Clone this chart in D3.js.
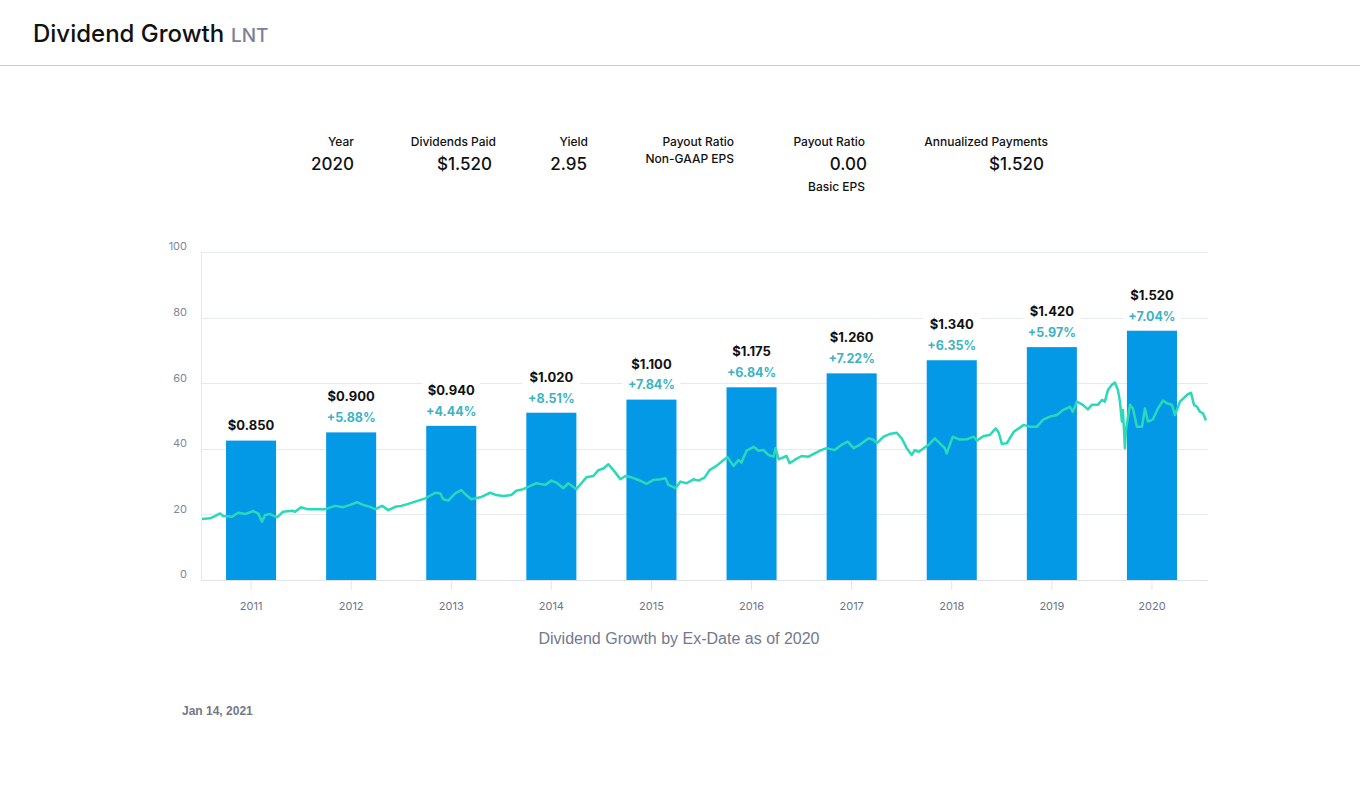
<!DOCTYPE html>
<html>
<head>
<meta charset="utf-8">
<script src="https://cdn.jsdelivr.net/npm/d3@7"></script>
<style>
  html, body { margin: 0; padding: 0; background: #fff; }
  svg { display: block; }
</style>
</head>
<body>
<svg id="chart" width="1360" height="795"></svg>
<script>
// ---------- DATA ----------
const years = [2011, 2012, 2013, 2014, 2015, 2016, 2017, 2018, 2019, 2020];
const dividends = [0.850, 0.900, 0.940, 1.020, 1.100, 1.175, 1.260, 1.340, 1.420, 1.520];
const growthLabels = ["", "+5.88%", "+4.44%", "+8.51%", "+7.84%", "+6.84%", "+7.22%", "+6.35%", "+5.97%", "+7.04%"];
const yTicks = [0, 20, 40, 60, 80, 100];

// share price (decimal year, price)
const priceTimes = [
  2011.01, 2011.09, 2011.14, 2011.19, 2011.22, 2011.31, 2011.37, 2011.44, 2011.52, 2011.57,
  2011.61, 2011.64, 2011.69, 2011.76, 2011.82, 2011.91, 2011.94, 2012.00, 2012.06, 2012.14,
  2012.24, 2012.34, 2012.42, 2012.49, 2012.56, 2012.62, 2012.69, 2012.74, 2012.81, 2012.87,
  2012.94, 2013.00, 2013.07, 2013.14, 2013.24, 2013.34, 2013.39, 2013.42, 2013.47, 2013.54,
  2013.60, 2013.65, 2013.70, 2013.79, 2013.89, 2013.95, 2014.02, 2014.10, 2014.15, 2014.22,
  2014.29, 2014.35, 2014.44, 2014.50, 2014.55, 2014.62, 2014.67, 2014.75, 2014.80, 2014.85,
  2014.92, 2014.97, 2015.02, 2015.07, 2015.12, 2015.19, 2015.24, 2015.30, 2015.37, 2015.45,
  2015.52, 2015.59, 2015.64, 2015.67, 2015.74, 2015.79, 2015.85, 2015.92, 2015.97, 2016.03,
  2016.08, 2016.15, 2016.22, 2016.26, 2016.32, 2016.37, 2016.40, 2016.45, 2016.52, 2016.57,
  2016.62, 2016.67, 2016.72, 2016.74, 2016.77, 2016.85, 2016.88, 2016.93, 2017.00, 2017.07,
  2017.13, 2017.18, 2017.25, 2017.33, 2017.40, 2017.46, 2017.52, 2017.58, 2017.67, 2017.72,
  2017.75, 2017.82, 2017.88, 2017.95, 2018.00, 2018.05, 2018.10, 2018.13, 2018.17, 2018.22,
  2018.27, 2018.33, 2018.38, 2018.43, 2018.45, 2018.51, 2018.58, 2018.65, 2018.72, 2018.75,
  2018.82, 2018.88, 2018.94, 2018.97, 2019.00, 2019.05, 2019.12, 2019.22, 2019.28, 2019.35,
  2019.41, 2019.48, 2019.55, 2019.61, 2019.68, 2019.71, 2019.75, 2019.81, 2019.86, 2019.90,
  2019.96, 2020.00, 2020.03, 2020.06, 2020.10, 2020.13, 2020.16, 2020.18, 2020.20, 2020.21,
  2020.23, 2020.24, 2020.28, 2020.31, 2020.35, 2020.40, 2020.43, 2020.46, 2020.51, 2020.56,
  2020.61, 2020.65, 2020.70, 2020.73, 2020.78, 2020.86, 2020.89, 2020.92, 2020.95, 2020.98,
  2021.01, 2021.04
];
const priceValues = [
  18.6, 18.8, 19.5, 20.3, 19.5, 19.3, 20.5, 20.1, 21.0, 20.3,
  17.8, 19.8, 20.1, 19.1, 20.8, 21.1, 20.8, 22.2, 21.6, 21.6,
  21.6, 22.6, 22.2, 22.9, 23.7, 22.9, 22.3, 21.6, 22.6, 21.3,
  22.3, 22.6, 23.2, 23.9, 24.9, 26.6, 26.4, 24.6, 24.2, 26.4,
  27.4, 25.9, 24.6, 25.2, 26.6, 25.9, 25.6, 25.9, 27.2, 27.7,
  28.7, 29.5, 29.0, 30.3, 29.7, 28.0, 29.5, 27.7, 29.5, 31.3,
  31.7, 33.5, 34.0, 35.3, 33.5, 30.7, 31.7, 31.3, 30.5, 29.3,
  30.5, 30.7, 31.0, 29.0, 28.0, 30.0, 29.5, 30.7, 30.3, 31.2,
  33.5, 34.8, 36.6, 37.4, 34.8, 36.6, 35.8, 39.4, 40.6, 39.4,
  39.6, 38.1, 37.6, 40.2, 36.8, 37.8, 35.6, 36.6, 37.8, 37.6,
  38.6, 39.4, 40.2, 39.6, 41.2, 42.2, 40.2, 41.2, 43.2, 42.7,
  41.7, 43.7, 44.5, 44.9, 43.2, 40.2, 38.1, 39.6, 39.1, 40.2,
  41.2, 43.2, 41.7, 40.2, 38.6, 43.7, 42.8, 42.9, 43.7, 42.5,
  43.9, 44.2, 46.2, 44.9, 41.5, 41.7, 45.2, 47.3, 46.7, 46.7,
  48.8, 49.8, 50.3, 51.8, 52.8, 51.3, 54.4, 53.4, 52.0, 53.4,
  53.4, 54.9, 54.4, 57.9, 59.5, 60.2, 57.9, 54.4, 48.3, 51.8,
  40.2, 45.7, 53.4, 52.3, 46.7, 46.7, 52.3, 48.3, 49.0, 52.3,
  54.7, 53.9, 53.4, 50.3, 54.4, 56.7, 57.1, 53.4, 52.8, 51.3,
  50.8, 48.6
];

const stats = [
  { label: "Year", value: "2020", sub: "" },
  { label: "Dividends Paid", value: "$1.520", sub: "" },
  { label: "Yield", value: "2.95", sub: "" },
  { label: "Payout Ratio", value: "", sub: "Non-GAAP EPS" },
  { label: "Payout Ratio", value: "0.00", sub: "Basic EPS" },
  { label: "Annualized Payments", value: "$1.520", sub: "" }
];

// ---------- LAYOUT ----------
const svg = d3.select("#chart");
const geo = "Inter, 'Noto Sans', sans-serif";
const arial = "'Liberation Sans', Arial, sans-serif";

// Header
svg.append("text").attr("x", 33).attr("y", 42)
  .attr("font-family", geo).attr("font-size", 24).attr("font-weight", 500)
  .attr("fill", "#111")
  .text("Dividend Growth");
svg.append("text").attr("x", 231).attr("y", 42)
  .attr("font-family", geo).attr("font-size", 19).attr("font-weight", 500)
  .attr("fill", "#7a8199").text("LNT");
svg.append("line").attr("x1", 0).attr("x2", 1360).attr("y1", 65.5).attr("y2", 65.5)
  .attr("stroke", "#c6cbd2").attr("stroke-width", 1);

// Stats row
const statLabelX = [354, 496, 588, 734, 865, 1048];
const statValueX = [354, 492, 587, 734, 867, 1044];
stats.forEach((s, i) => {
  svg.append("text").attr("x", statLabelX[i]).attr("y", 145.5)
    .attr("text-anchor", "end").attr("font-family", geo).attr("font-size", 12)
    .attr("font-weight", 500).attr("fill", "#111").text(s.label);
  if (s.value) {
    svg.append("text").attr("x", statValueX[i]).attr("y", 170)
      .attr("text-anchor", "end").attr("font-family", geo).attr("font-size", 17)
      .attr("font-weight", 500).attr("fill", "#111").text(s.value);
  }
  if (s.sub) {
    const sy = s.value ? 190.5 : 162.5;
    svg.append("text").attr("x", statLabelX[i]).attr("y", sy)
      .attr("text-anchor", "end").attr("font-family", geo).attr("font-size", 12)
      .attr("font-weight", 500).attr("fill", "#111").text(s.sub);
  }
});

// Scales
const plotLeft = 201, plotRight = 1208, plotBottom = 580, plotTop = 252;
const x = d3.scaleBand().domain(years).range([plotLeft, 1202]).paddingInner(0.5).paddingOuter(0.25);
const y = d3.scaleLinear().domain([0, 100]).range([plotBottom, plotTop]);
const yDiv = d3.scaleLinear().domain([0, 2]).range([plotBottom, plotTop]);
const xt = d3.scaleLinear().domain([2011, 2021]).range([plotLeft, 1202]);

// Gridlines
const gridG = svg.append("g");
gridG.selectAll("line.grid").data(yTicks.filter(d => d > 0)).join("line")
  .attr("x1", plotLeft).attr("x2", plotRight)
  .attr("y1", d => Math.round(y(d)) + 0.5).attr("y2", d => Math.round(y(d)) + 0.5)
  .attr("stroke", "#e4e9f2").attr("stroke-width", 1);

// Y axis labels
const yAxis = d3.axisLeft(y).tickValues(yTicks).tickSize(0).tickPadding(0);
const yg = svg.append("g").attr("transform", `translate(187,-6)`).call(yAxis);
yg.select(".domain").remove();
yg.selectAll("text").attr("font-family", geo).attr("font-size", 11)
  .attr("fill", "#80869b").attr("dy", "0.35em");

// Left axis line
svg.append("line").attr("x1", plotLeft + 0.5).attr("x2", plotLeft + 0.5).attr("y1", plotTop).attr("y2", plotBottom)
  .attr("stroke", "#e4e9f2");

// X axis
const xAxis = d3.axisBottom(x).tickSize(10).tickPadding(12).tickSizeOuter(0);
const xg = svg.append("g").attr("transform", `translate(0,${plotBottom})`).call(xAxis);
xg.select(".domain").attr("d", `M${plotLeft},0.5H${plotRight}`).attr("stroke", "#dfe4ec");
xg.selectAll(".tick line").attr("stroke", "#dfe4ec");
xg.selectAll("text").attr("font-family", geo).attr("font-size", 11).attr("fill", "#6e748a");

// Bars
const data = years.map((yr, i) => ({ yr, div: dividends[i], g: growthLabels[i] }));
svg.append("g").selectAll("rect").data(data).join("rect")
  .attr("x", d => x(d.yr)).attr("width", x.bandwidth())
  .attr("y", d => yDiv(d.div)).attr("height", d => plotBottom - yDiv(d.div))
  .attr("fill", "#0499e6");

// Price line
const price = priceTimes.map((t, i) => ({ t, v: priceValues[i] }));
svg.append("path").datum(price)
  .attr("fill", "none").attr("stroke", "#2ad9b7").attr("stroke-width", 2.5)
  .attr("stroke-linejoin", "round")
  .attr("d", d3.line().x(d => xt(d.t)).y(d => y(d.v)));

// Bar labels
const lg = svg.append("g");
data.forEach(d => {
  const cx = x(d.yr) + x.bandwidth() / 2;
  const barTop = yDiv(d.div);
  const pctY = barTop - 14.5;
  const divY = d.g ? pctY - 21 : barTop - 15;
  const boxTop = divY - 11;
  const boxBot = d.g ? pctY + 9 : divY + 9;
  lg.append("rect").attr("x", cx - 29).attr("width", 58)
    .attr("y", boxTop).attr("height", boxBot - boxTop).attr("fill", "#fff");
  lg.append("text").attr("x", cx).attr("y", divY).attr("dy", "0.35em")
    .attr("text-anchor", "middle").attr("font-family", geo).attr("font-size", 13)
    .attr("font-weight", 700).attr("fill", "#111")
    .text("$" + d3.format(".3f")(d.div));
  if (d.g) {
    lg.append("text").attr("x", cx).attr("y", pctY).attr("dy", "0.35em")
      .attr("text-anchor", "middle").attr("font-family", geo).attr("font-size", 12.5)
      .attr("font-weight", 700).attr("fill", "#3cb3c4").text(d.g);
  }
});

// Caption
svg.append("text").attr("x", 679).attr("y", 638).attr("dy", "0.35em")
  .attr("text-anchor", "middle").attr("font-family", arial).attr("font-size", 16)
  .attr("fill", "#727991").text("Dividend Growth by Ex-Date as of 2020");

// Date
svg.append("text").attr("x", 182).attr("y", 711).attr("dy", "0.35em")
  .attr("font-family", arial).attr("font-size", 12).attr("font-weight", 700)
  .attr("fill", "#727889").text("Jan 14, 2021");
</script>
</body>
</html>
